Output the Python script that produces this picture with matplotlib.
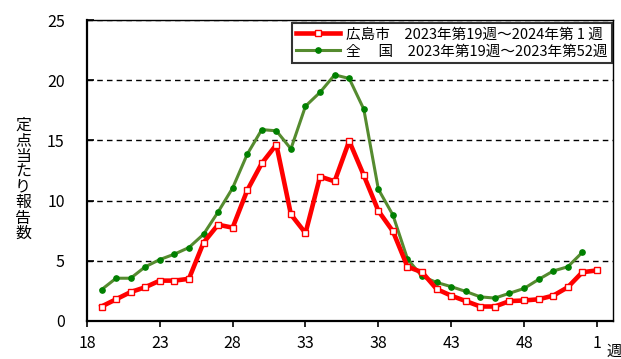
import matplotlib
matplotlib.use("Agg")
import matplotlib.pyplot as plt

plt.rcParams["font.family"] = ["Noto Sans CJK JP", "DejaVu Sans"]

# ── Data ──────────────────────────────────────────────────────────────────────
weeks_hiroshima = list(range(19, 54))          # 19..52, then week 1 of 2024 (=53)
hiroshima = [1.2, 1.8, 2.4, 2.8, 3.35, 3.35, 3.5, 6.5, 8.0, 7.75,
             10.85, 13.1, 14.65, 8.85, 7.3, 12.0, 11.6, 14.95, 12.1, 9.15,
             7.45, 4.5, 4.05, 2.65, 2.1, 1.65, 1.2, 1.2, 1.65, 1.7,
             1.8, 2.1, 2.8, 4.05, 4.2]
weeks_national = list(range(19, 53))
national = [2.6, 3.55, 3.55, 4.5, 5.1, 5.55, 6.1, 7.2, 9.05, 11.05,
            13.85, 15.9, 15.8, 14.3, 17.85, 19.0, 20.45, 20.15, 17.6, 10.95,
            8.8, 5.15, 3.7, 3.2, 2.85, 2.45, 2.0, 1.9, 2.3, 2.7,
            3.45, 4.15, 4.5, 5.7]

xticks = [18, 23, 28, 33, 38, 43, 48, 53]
xtick_labels = ["18", "23", "28", "33", "38", "43", "48", "1"]
yticks = [0, 5, 10, 15, 20, 25]

label_hiroshima = "広島市\u30002023年第19週～2024年第 1 週"
label_national = "全\u3000 国\u30002023年第19週～2023年第52週"

# ── Figure ────────────────────────────────────────────────────────────────────
fig = plt.figure(figsize=(6.21, 3.59), dpi=100)
ax = fig.add_axes([0.140, 0.106, 0.847, 0.838])

for y in yticks[1:]:
    ax.axhline(y, color="black", lw=1.0, ls=(0, (4, 3)), zorder=1)

ax.plot(weeks_hiroshima, hiroshima, color="#ff0000", lw=3.3, marker="s",
        ms=4.8, mfc="white", mec="#ff0000", mew=1.0, zorder=3,
        label=label_hiroshima)
ax.plot(weeks_national, national, color="#558b2f", lw=2.2, marker="o",
        ms=3.8, mfc="#008000", mec="#008000", zorder=2,
        label=label_national)

ax.set_xlim(18, 54.1)
ax.set_ylim(0, 25)
ax.set_xticks(xticks)
ax.set_xticklabels(xtick_labels)
ax.set_yticks(yticks)
ax.tick_params(axis="x", direction="out", length=4, width=1.2, pad=6,
               labelsize=11.5)
ax.tick_params(axis="y", direction="in", length=5, width=1.2, pad=16,
               labelsize=11.5)
for side in ["left", "bottom"]:
    ax.spines[side].set_linewidth(1.6)
for side in ["top", "right"]:
    ax.spines[side].set_linewidth(1.0)

leg = ax.legend(loc="upper right", bbox_to_anchor=(0.998, 0.99), fontsize=10.5,
                frameon=True, fancybox=False, edgecolor="black",
                handlelength=3.0, handletextpad=0.4, borderpad=0.3,
                labelspacing=0.2, borderaxespad=0.0)
leg.get_frame().set_linewidth(1.5)

fig.text(0.037, 0.50, "\n".join("定点当たり報告数"), fontsize=11.5,
         ha="center", va="center", linespacing=0.88)
fig.text(0.977, 0.022, "週", fontsize=11, ha="left", va="center")

fig.savefig("out.png", dpi=100)
